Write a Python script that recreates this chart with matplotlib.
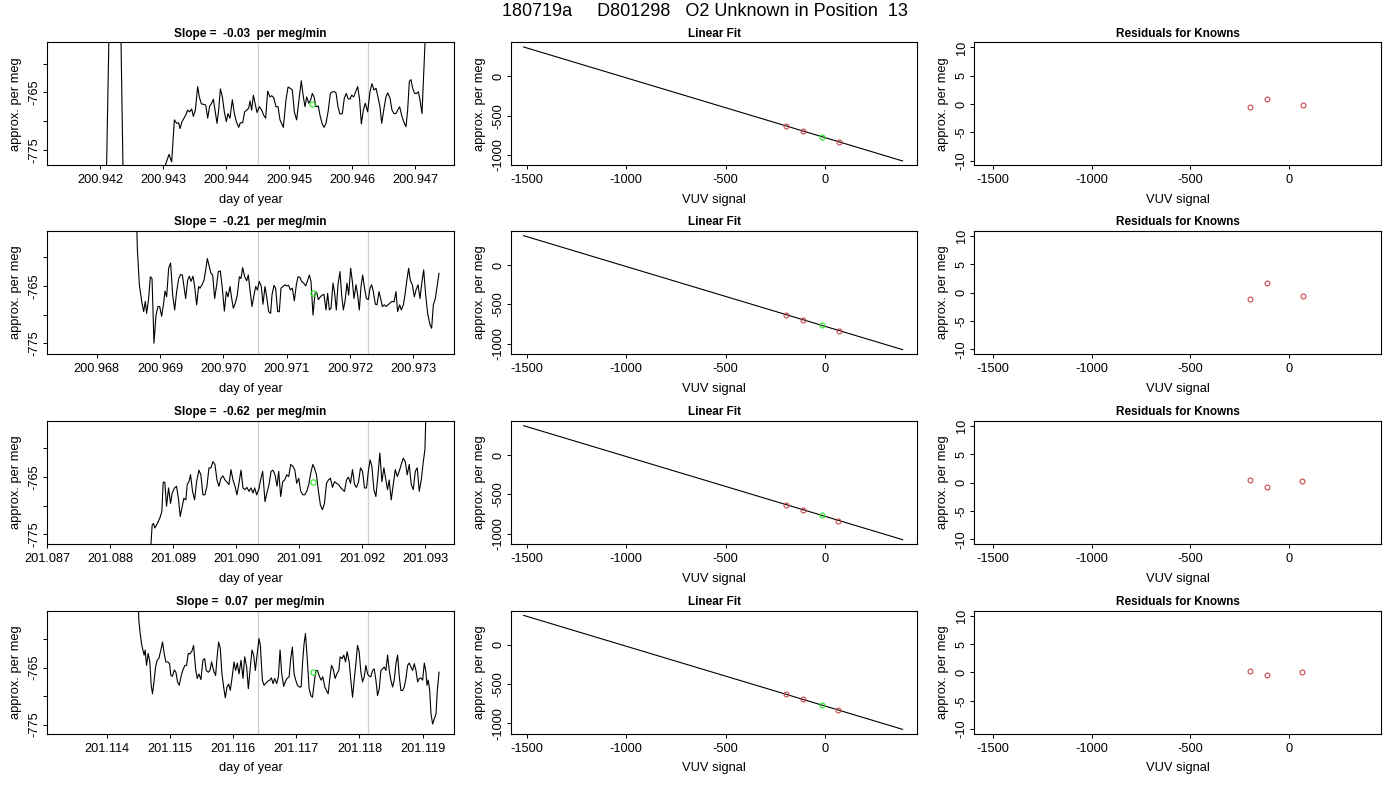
"""
O2 unknown, position 13: drift / linear-fit / residual panels (4 runs)
"""
import numpy as np
import matplotlib
matplotlib.use("Agg")
import matplotlib.pyplot as plt
from matplotlib.ticker import MultipleLocator, FormatStrFormatter, FixedLocator, FixedFormatter

plt.rcParams['font.family'] = ['Liberation Sans', 'DejaVu Sans']
plt.rcParams['axes.unicode_minus'] = False

# ============================================================
# data
# ============================================================

main_title = "180719a     D801298   O2 Unknown in Position  13"
slopes = [-0.03, -0.21, -0.62, 0.07]

# day-of-year base for each run; the times below are micro-days after it
day_base = [200.940, 200.960, 201.080, 201.110]

t1 = [1390, 2079, 2153, 2312, 2376, 2989, 3090, 3132, 3175, 3212,
      3243, 3265, 3296, 3328, 3354, 3386, 3418, 3450, 3476, 3508,
      3545, 3571, 3603, 3635, 3672, 3704, 3735, 3762, 3794, 3820,
      3852, 3878, 3905, 3937, 3968, 4000, 4026, 4058, 4095, 4127,
      4159, 4196, 4222, 4259, 4291, 4323, 4354, 4376, 4402, 4429,
      4455, 4487, 4524, 4561, 4593, 4624, 4656, 4693, 4720, 4751,
      4788, 4820, 4852, 4905, 4947, 4979, 5016, 5048, 5079, 5116,
      5153, 5190, 5222, 5249, 5275, 5307, 5339, 5365, 5392, 5423,
      5460, 5487, 5519, 5550, 5582, 5619, 5651, 5683, 5714, 5741,
      5772, 5804, 5841, 5873, 5905, 5931, 5963, 5989, 6021, 6053,
      6085, 6116, 6143, 6175, 6206, 6243, 6280, 6312, 6344, 6376,
      6407, 6439, 6466, 6503, 6534, 6561, 6598, 6630, 6661, 6693,
      6720, 6751, 6783, 6815, 6852, 6878, 6905, 6931, 6958, 6989,
      7021, 7048, 7074, 7106, 7138, 7196, 7370]
v1 = [-790, -790, -745, -745, -790, -779, -775.8, -777.1, -769.8, -770.4,
      -770.3, -771.3, -770.1, -769.5, -769.0, -768.1, -768.4, -767.9, -769.2, -768.1,
      -764.0, -765.8, -767.0, -767.1, -767.2, -769.5, -767.4, -767.0, -766.2, -768.1,
      -770.4, -768.1, -764.4, -765.8, -768.4, -770.1, -768.7, -769.5, -766.3, -768.7,
      -770.1, -771.1, -770.3, -770.3, -768.4, -768.1, -767.8, -766.5, -768.1, -765.5,
      -766.9, -768.5, -767.5, -768.1, -769.0, -769.5, -764.8, -765.8, -765.6, -765.9,
      -767.5, -767.5, -769.8, -771.1, -766.3, -764.1, -764.3, -764.6, -768.4, -769.8,
      -766.3, -763.0, -765.8, -767.5, -765.8, -766.9, -766.3, -765.2, -765.8, -767.5,
      -767.4, -769.0, -770.4, -771.1, -770.4, -768.1, -765.2, -764.9, -764.9, -765.1,
      -767.5, -768.8, -768.7, -766.0, -765.2, -766.1, -766.2, -765.5, -765.8, -764.9,
      -764.0, -766.3, -770.5, -768.1, -766.9, -768.4, -764.9, -763.5, -764.6, -764.3,
      -765.8, -767.5, -770.4, -767.8, -765.8, -765.1, -766.0, -768.1, -768.7, -768.7,
      -768.1, -767.5, -769.0, -770.1, -771.0, -768.1, -763.1, -762.8, -764.3, -765.2,
      -765.2, -764.9, -766.3, -768.7, -760.5, -745, -720]

t2 = [7453, 8589, 8642, 8674, 8711, 8742, 8768, 8789, 8821, 8847,
      8874, 8905, 8937, 8968, 8995, 9026, 9058, 9079, 9105, 9137,
      9168, 9200, 9232, 9263, 9295, 9326, 9353, 9379, 9405, 9437,
      9463, 9489, 9521, 9547, 9579, 9610, 9632, 9663, 9695, 9726,
      9747, 9779, 9805, 9832, 9863, 9895, 9921, 9953, 9984, 10016,
      10047, 10074, 10105, 10132, 10158, 10189, 10221, 10253, 10279, 10305,
      10337, 10368, 10395, 10421, 10453, 10484, 10511, 10537, 10568, 10600,
      10626, 10658, 10684, 10716, 10747, 10768, 10800, 10826, 10858, 10884,
      10910, 10942, 10974, 11000, 11031, 11058, 11089, 11121, 11153, 11179,
      11210, 11237, 11268, 11300, 11326, 11358, 11384, 11416, 11447, 11474,
      11500, 11532, 11563, 11589, 11621, 11647, 11674, 11700, 11732, 11758,
      11784, 11810, 11842, 11868, 11895, 11921, 11953, 11979, 12010, 12037,
      12063, 12095, 12121, 12147, 12174, 12200, 12226, 12258, 12289, 12316,
      12342, 12368, 12400, 12426, 12458, 12484, 12510, 12542, 12568, 12600,
      12631, 12663, 12695, 12726, 12752, 12784, 12810, 12842, 12868, 12895,
      12926, 12952, 12984, 13016, 13042, 13074, 13105, 13137, 13163, 13195,
      13226, 13263, 13289, 13316, 13347, 13379, 13405]
v2 = [-720, -735, -758.4, -764.8, -767.7, -769.5, -767.7, -769.8, -767.2, -763.4,
      -763.7, -775.0, -770.1, -768.6, -768.6, -770.3, -768.0, -765.9, -766.9, -761.9,
      -761.0, -766.6, -769.2, -766.0, -763.7, -763.0, -763.1, -765.1, -767.2, -764.0,
      -763.3, -764.2, -763.3, -765.1, -768.3, -765.1, -765.4, -764.8, -764.0, -761.9,
      -760.2, -761.6, -762.8, -763.1, -767.2, -764.8, -762.5, -762.4, -765.4, -769.4,
      -766.0, -766.9, -765.1, -767.2, -768.9, -768.0, -766.6, -763.4, -763.7, -761.8,
      -763.4, -764.1, -763.1, -765.7, -768.6, -766.6, -765.1, -765.7, -764.2, -765.1,
      -768.2, -765.1, -766.9, -769.5, -769.8, -766.6, -764.9, -765.4, -769.5, -769.5,
      -765.4, -765.1, -764.8, -765.0, -764.9, -765.7, -765.4, -767.6, -764.8, -763.4,
      -763.5, -764.2, -764.5, -765.0, -764.2, -763.1, -764.2, -770.1, -766.3, -766.1,
      -767.4, -766.9, -766.6, -766.5, -769.2, -766.3, -769.2, -768.9, -764.5, -766.3,
      -769.2, -764.8, -762.5, -766.6, -769.2, -767.7, -764.5, -766.6, -761.9, -764.2,
      -767.2, -764.8, -766.6, -769.2, -765.1, -763.1, -765.1, -767.2, -767.4, -765.4,
      -764.8, -766.0, -768.2, -768.3, -766.0, -767.2, -768.6, -768.3, -768.6, -768.3,
      -768.0, -767.7, -767.8, -766.0, -769.5, -768.3, -769.2, -768.3, -766.6, -764.2,
      -761.9, -764.0, -764.8, -766.9, -765.7, -764.8, -767.2, -764.2, -762.2, -766.6,
      -769.8, -771.8, -772.4, -768.3, -767.2, -764.8, -762.8]

t3 = [7238, 8573, 8668, 8689, 8711, 8732, 8764, 8795, 8822, 8843,
      8869, 8896, 8928, 8960, 8986, 9023, 9055, 9087, 9113, 9145,
      9171, 9203, 9224, 9251, 9277, 9309, 9341, 9373, 9410, 9441,
      9473, 9505, 9537, 9569, 9600, 9632, 9664, 9696, 9727, 9759,
      9791, 9823, 9849, 9886, 9918, 9950, 9982, 10013, 10045, 10077,
      10109, 10141, 10172, 10204, 10236, 10268, 10294, 10326, 10358, 10389,
      10421, 10458, 10490, 10522, 10554, 10585, 10617, 10649, 10675, 10707,
      10739, 10771, 10802, 10834, 10866, 10898, 10930, 10961, 10993, 11025,
      11057, 11089, 11120, 11152, 11184, 11216, 11242, 11274, 11306, 11337,
      11369, 11401, 11433, 11465, 11496, 11528, 11560, 11592, 11623, 11655,
      11687, 11719, 11751, 11782, 11814, 11846, 11878, 11909, 11941, 11973,
      12005, 12036, 12068, 12100, 12126, 12153, 12185, 12217, 12248, 12280,
      12312, 12344, 12375, 12402, 12428, 12460, 12492, 12524, 12556, 12587,
      12619, 12651, 12683, 12714, 12746, 12778, 12810, 12842, 12873, 12905,
      12937, 12969, 12995, 13032, 13217]
v3 = [-800, -790, -773.4, -773.1, -773.9, -773.5, -772.8, -772.0, -771.0, -765.9,
      -765.9, -770.1, -766.9, -769.6, -767.8, -766.9, -766.6, -769.0, -771.9, -770.1,
      -768.7, -769.0, -766.3, -765.8, -764.6, -767.5, -769.0, -765.8, -763.8, -764.6,
      -768.1, -768.1, -766.6, -763.4, -763.4, -762.3, -762.8, -765.5, -766.6, -765.2,
      -764.8, -765.5, -765.8, -766.3, -763.7, -765.5, -766.6, -768.1, -766.1, -763.8,
      -766.9, -767.2, -766.8, -767.5, -766.9, -767.8, -766.9, -768.1, -767.2, -765.5,
      -764.0, -769.3, -767.7, -766.3, -764.0, -763.8, -764.6, -766.6, -764.0, -768.4,
      -765.8, -765.5, -764.6, -764.9, -762.8, -763.1, -763.7, -766.1, -765.2, -767.5,
      -768.1, -768.1, -767.5, -766.3, -764.3, -762.8, -763.4, -764.6, -767.5, -769.9,
      -770.7, -769.6, -766.1, -765.5, -765.2, -766.8, -765.8, -766.1, -766.3, -766.8,
      -767.2, -767.5, -765.5, -765.0, -766.1, -763.7, -766.3, -766.8, -765.9, -763.4,
      -764.0, -766.9, -766.9, -763.7, -762.0, -763.1, -767.2, -768.4, -764.9, -760.8,
      -765.8, -763.4, -765.5, -767.2, -765.5, -769.0, -766.3, -763.7, -764.9, -764.0,
      -762.8, -761.7, -762.3, -764.6, -762.8, -766.3, -767.2, -764.0, -763.4, -767.5,
      -765.5, -762.3, -760.2, -745, -720]

t4 = [3292, 4465, 4507, 4529, 4550, 4571, 4592, 4608, 4629, 4655,
      4682, 4703, 4724, 4750, 4772, 4798, 4824, 4856, 4883, 4909,
      4935, 4967, 4994, 5015, 5041, 5068, 5094, 5120, 5147, 5179,
      5205, 5237, 5263, 5290, 5316, 5348, 5374, 5406, 5432, 5459,
      5490, 5522, 5549, 5575, 5607, 5633, 5659, 5691, 5723, 5744,
      5770, 5797, 5823, 5850, 5876, 5903, 5929, 5955, 5982, 6014,
      6040, 6066, 6093, 6125, 6156, 6183, 6214, 6241, 6267, 6299,
      6325, 6352, 6378, 6410, 6431, 6463, 6489, 6521, 6547, 6579,
      6606, 6632, 6658, 6690, 6716, 6743, 6769, 6801, 6827, 6854,
      6886, 6912, 6938, 6965, 6991, 7018, 7049, 7076, 7102, 7123,
      7145, 7171, 7203, 7229, 7256, 7282, 7308, 7335, 7361, 7393,
      7419, 7451, 7478, 7504, 7530, 7557, 7583, 7615, 7641, 7673,
      7694, 7726, 7752, 7779, 7805, 7837, 7863, 7890, 7916, 7943,
      7969, 7995, 8022, 8048, 8075, 8101, 8128, 8154, 8180, 8207,
      8233, 8260, 8286, 8313, 8339, 8365, 8392, 8418, 8445, 8471,
      8497, 8524, 8550, 8577, 8603, 8630, 8656, 8683, 8709, 8735,
      8762, 8788, 8815, 8841, 8867, 8894, 8920, 8947, 8973, 9000,
      9026, 9052, 9068, 9089, 9111, 9132, 9158, 9185, 9211, 9232,
      9259]
v4 = [-700, -740, -756.6, -759.0, -760.8, -761.9, -762.8, -761.9, -764.6, -762.5,
      -764.0, -768.1, -769.6, -767.2, -764.9, -763.7, -763.4, -761.9, -760.5, -762.5,
      -764.0, -764.0, -764.3, -766.4, -766.5, -765.4, -765.8, -767.5, -768.1, -766.4,
      -765.4, -764.6, -764.6, -762.5, -762.6, -762.1, -761.1, -765.2, -766.9, -766.1,
      -767.1, -763.7, -763.4, -765.5, -765.8, -765.5, -764.0, -765.5, -766.4, -763.4,
      -760.5, -761.6, -766.1, -768.4, -770.3, -768.4, -767.9, -769.0, -766.9, -764.0,
      -765.5, -764.2, -766.1, -763.7, -766.9, -763.1, -764.9, -768.7, -765.5, -761.9,
      -762.8, -765.5, -762.8, -759.9, -761.1, -767.2, -768.1, -767.7, -767.4, -767.2,
      -766.8, -767.8, -766.9, -767.8, -766.6, -761.9, -766.1, -768.3, -767.4, -766.9,
      -766.6, -763.4, -761.4, -766.1, -767.2, -768.1, -768.4, -768.4, -763.7, -760.8,
      -759.0, -763.1, -768.7, -769.9, -770.2, -767.8, -765.5, -765.5, -766.4, -767.2,
      -766.6, -768.4, -769.0, -769.6, -766.9, -764.6, -765.2, -766.9, -766.1, -765.5,
      -763.1, -763.4, -762.8, -764.0, -762.2, -764.0, -767.2, -770.2, -767.2, -764.3,
      -761.1, -762.2, -765.8, -767.5, -766.6, -764.6, -766.1, -766.5, -766.6, -765.5,
      -765.2, -767.2, -769.9, -768.7, -765.5, -765.2, -764.9, -765.5, -762.8, -765.5,
      -767.2, -768.4, -767.2, -764.3, -762.8, -766.6, -769.0, -769.0, -768.4, -766.9,
      -764.6, -764.2, -764.9, -765.5, -764.3, -765.5, -767.5, -766.9, -766.8, -767.2,
      -764.2, -765.8, -768.1, -767.2, -769.0, -773.1, -774.9, -774.0, -773.1, -769.0,
      -765.8]

series_t = [t1, t2, t3, t4]
series_v = [v1, v2, v3, v4]

# averaging window marks (micro-days after base) and the green mean point
window_marks = [[4508, 6249], [10553, 12284], [10347, 12089], [6394, 8133]]
mean_t = [5365, 11421, 11221, 7266]
mean_v = [-767.0, -766.3, -765.9, -765.7]

# axis limits of the drift panels
drift_xlim = [(1153, 7614), (7216, 13642), (7000, 13456), (3054, 9496)]
drift_ylim = [(-777.7, -756.3), (-776.9, -755.4), (-776.7, -755.2), (-776.6, -755.0)]

# linear fit of the knowns
fit_intercept = -780.0
fit_slope = -0.762
fit_x_ends = [-1515, 388]
known_x = [[-198, -113, 69], [-196, -113, 69], [-197, -113, 66], [-196, -113, 64]]
known_y = [-632, -694, -833]
unknown_x = -17
residuals = [[-0.55, 0.9, -0.2], [-1.15, 1.67, -0.5], [0.5, -0.7, 0.26], [0.26, -0.5, 0.06]]


# ============================================================
# layout
# ============================================================

W, H = 1400, 800
col_left = [47, 510.7, 974.3]
col_width = [407, 406.6, 406.7]
row_top = [42.3, 231, 421, 610.7]
row_h = 123

RED = "#c8474a"
GREEN = "#22e622"
TICK_FS = 9.2
LAB_FS = 9.3
TITLE_FS = 8.5


def make_ax(fig, r, c):
    l = col_left[c] / W
    b = 1 - (row_top[r] + row_h) / H
    ax = fig.add_axes([l, b, col_width[c] / W, row_h / H])
    for s in ax.spines.values():
        s.set_linewidth(0.8)
        s.set_color("black")
    ax.tick_params(direction="out", length=3.2, width=0.75, labelsize=TICK_FS)
    ax.tick_params(axis="x", pad=3.2)
    ax.tick_params(axis="y", labelrotation=90, pad=1.6)
    return ax


def center_ylabels(ax):
    for lab in ax.get_yticklabels():
        lab.set_va("center")


fig = plt.figure(figsize=(W / 100, H / 100), dpi=100)
fig.text(705 / W, 1 - 12 / H, main_title, ha="center", va="center", fontsize=13)

for r in range(4):
    base = day_base[r]
    tt = base + np.array(series_t[r]) * 1e-6

    # drift panel
    ax = make_ax(fig, r, 0)
    for m in window_marks[r]:
        ax.axvline(base + m * 1e-6, color="#cfcfcf", lw=0.9)
    ax.plot(tt, series_v[r], color="black", lw=0.8)
    ax.plot([base + mean_t[r] * 1e-6], [mean_v[r]], "o", mfc="none", mec=GREEN,
            ms=3.8, mew=0.8)
    ax.set_xlim(base + drift_xlim[r][0] * 1e-6, base + drift_xlim[r][1] * 1e-6)
    ax.set_ylim(*drift_ylim[r])
    ax.xaxis.set_major_locator(MultipleLocator(0.001))
    ax.xaxis.set_major_formatter(FormatStrFormatter("%.3f"))
    ax.yaxis.set_major_locator(FixedLocator([-775, -770, -765, -760]))
    ax.yaxis.set_major_formatter(FixedFormatter(["-775", "", "-765", ""]))
    center_ylabels(ax)
    ax.set_title(f"Slope =  {slopes[r]:.2f}  per meg/min", fontsize=TITLE_FS,
                 fontweight="bold", pad=4)
    ax.set_xlabel("day of year", fontsize=LAB_FS, labelpad=5.5)
    ax.set_ylabel("approx. per meg", fontsize=LAB_FS, labelpad=4.5)

    # linear fit panel
    ax = make_ax(fig, r, 1)
    fx = np.array(fit_x_ends)
    ax.plot(fx, fit_intercept + fit_slope * fx, color="black", lw=0.8)
    ax.plot(known_x[r], known_y, "o", mfc="none", mec=RED, ms=3.5, mew=0.8)
    ax.plot([unknown_x], [mean_v[r]], "o", mfc="none", mec=GREEN, ms=3.5, mew=0.8)
    ax.set_xlim(-1580, 462)
    ax.set_ylim(-1131, 434)
    ax.set_xticks([-1500, -1000, -500, 0])
    ax.set_yticks([-1000, -500, 0])
    center_ylabels(ax)
    ax.set_title("Linear Fit", fontsize=TITLE_FS, fontweight="bold", pad=4)
    ax.set_xlabel("VUV signal", fontsize=LAB_FS, labelpad=5.5)
    ax.set_ylabel("approx. per meg", fontsize=LAB_FS, labelpad=4.5)

    # residual panel
    ax = make_ax(fig, r, 2)
    ax.plot(known_x[r], residuals[r], "o", mfc="none", mec=RED, ms=3.5, mew=0.8)
    ax.set_xlim(-1596, 466)
    ax.set_ylim(-10.8, 10.9)
    ax.set_xticks([-1500, -1000, -500, 0])
    ax.set_yticks([-10, -5, 0, 5, 10])
    center_ylabels(ax)
    ax.set_title("Residuals for Knowns", fontsize=TITLE_FS, fontweight="bold", pad=4)
    ax.set_xlabel("VUV signal", fontsize=LAB_FS, labelpad=5.5)
    ax.set_ylabel("approx. per meg", fontsize=LAB_FS, labelpad=4.5)

fig.savefig("out.png", dpi=100)
